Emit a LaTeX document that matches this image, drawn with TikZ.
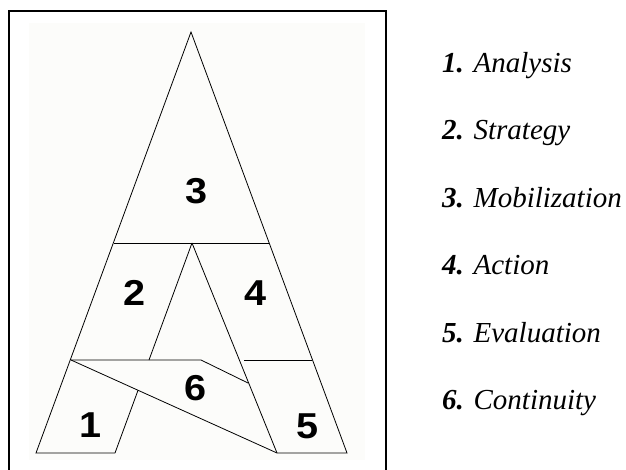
\documentclass[tikz,border=0pt]{standalone}
\usepackage{fontspec}
\setmainfont{Liberation Serif}
\newfontfamily\digitfont[FakeStretch=1.1]{Liberation Sans}
\begin{document}
\begin{tikzpicture}[x=1pt,y=-1pt,
    part/.style={line width=0.8pt,line join=miter},
    digit/.style={inner sep=0pt,font=\digitfont\bfseries\fontsize{36}{36}\selectfont},
    legend/.style={anchor=base west,inner sep=0pt,font=\fontsize{29}{30}\selectfont}]
  \useasboundingbox (0,0) rectangle (626,470);
  \fill[white] (0,0) rectangle (626,470);
  % faint panel behind the figure
  \fill[fill={rgb,255:red,252;green,252;blue,250}] (29,23) rectangle (365,460);
  % open frame (runs off the bottom)
  \draw[line width=2pt] (9,480) -- (9,11) -- (386,11) -- (386,480);

  % key points of the "A"
  \coordinate (apex) at (191,32);
  \coordinate (bl) at (36,453);
  \coordinate (br) at (347,453);
  \coordinate (ml) at (114,243);
  \coordinate (mr) at (269,243);
  \coordinate (ia) at (192,243);
  \coordinate (fl) at (115,453);
  \coordinate (fr) at (277,453);
  \coordinate (sl) at (71,360);
  \coordinate (sm) at (201,360);
  \coordinate (se) at (248,383);
  \coordinate (il) at (149,360);
  \coordinate (rl) at (244,360);
  \coordinate (rr) at (312,360);
  \coordinate (k) at (intersection of ia--fl and sl--fr);

  % outline
  \draw[part] (fl) -- (bl) -- (apex) -- (br) -- (fr);
  % crossbar under section 3
  \draw[part] (ml) -- (mr);
  % inner legs
  \draw[part] (ia) -- (il);
  \draw[part] (k) -- (fl);
  \draw[part] (ia) -- (fr);
  % band of section 6
  \draw[part] (sl) -- (sm) -- (se);
  \draw[part] (sl) -- (fr);
  % top of section 5
  \draw[part] (rl) -- (rr);

  % section numbers
  \node[digit] (n3) at (196.5,191.5) {3};
  \node[digit] (n2) at (135,293) {2};
  \node[digit] (n4) at (255.5,293.5) {4};
  \node[digit] (n6) at (196,388.5) {6};
  \node[digit] (n1) at (90.5,425) {1};
  \node[digit] (n5) at (308,426) {5};

  % key
  \node[legend] (l1) at (442,73)    {\textbf{\textit{1.}} \textit{Analysis}};
  \node[legend] (l2) at (442,140)   {\textbf{\textit{2.}} \textit{Strategy}};
  \node[legend] (l3) at (442,207.5) {\textbf{\textit{3.}} \textit{Mobilization}};
  \node[legend] (l4) at (442,275)   {\textbf{\textit{4.}} \textit{Action}};
  \node[legend] (l5) at (442,342)   {\textbf{\textit{5.}} \textit{Evaluation}};
  \node[legend] (l6) at (442,409)   {\textbf{\textit{6.}} \textit{Continuity}};
\end{tikzpicture}
\end{document}
